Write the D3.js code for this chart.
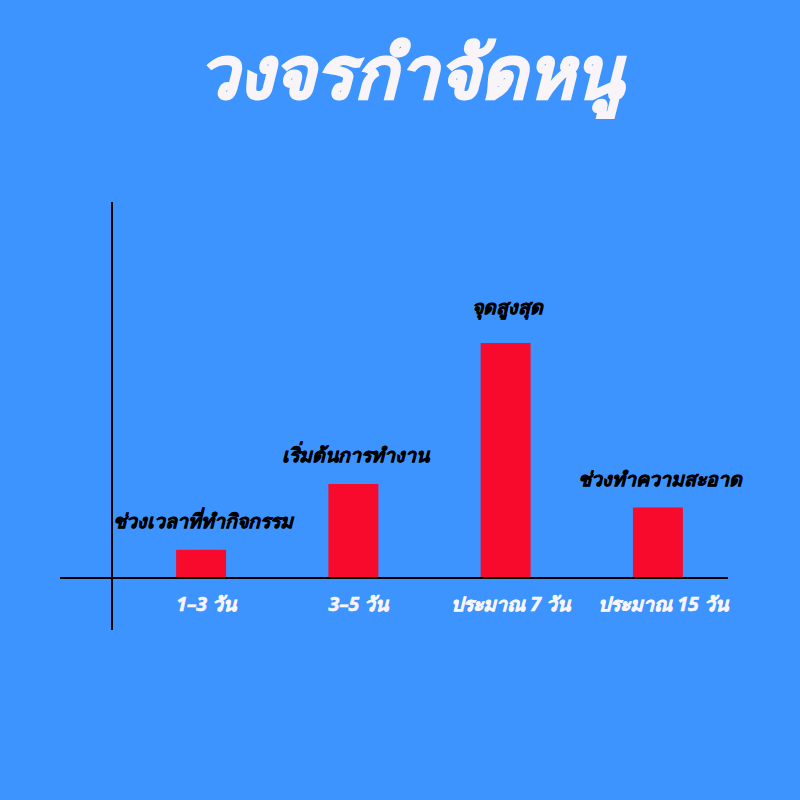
<!DOCTYPE html>
<html>
<head>
<meta charset="utf-8">
<script src="https://cdn.jsdelivr.net/npm/d3@7"></script>
<style>
  html, body { margin: 0; padding: 0; background: #3D94FF; }
  svg { display: block; }
  text { font-family: "Noto Sans", "DejaVu Sans", sans-serif; font-weight: 700; font-style: italic; }
</style>
</head>
<body>
<div id="chart"></div>
<script>
// ข้อมูล — วงจรกำจัดหนู
const categories = ['1–3 วัน', '3–5 วัน', 'ประมาณ 7 วัน', 'ประมาณ 15 วัน'];
const values = [1.2, 4, 10, 3];
const notes = ['ช่วงเวลาที่ทำกิจกรรม', 'เริ่มต้นการทำงาน', 'จุดสูงสุด', 'ช่วงทำความสะอาด'];
const title = 'วงจรกำจัดหนู';

const W = 800, H = 800;
const baseY = 578, axisX = 112;
const white = '#F8F4F8';

const svg = d3.select('#chart').append('svg')
  .attr('width', W).attr('height', H);

svg.append('rect').attr('width', W).attr('height', H).attr('fill', '#3D94FF');

svg.append('text')
  .attr('x', 410).attr('y', 98)
  .attr('text-anchor', 'middle')
  .attr('font-size', 72)
  .attr('fill', white)
  .attr('stroke', white).attr('stroke-width', 2)
  .text(title);

const x = d3.scaleBand()
  .domain(categories)
  .range([99, 758])
  .paddingInner(0.672)
  .paddingOuter(0.5);

const y = d3.scaleLinear()
  .domain([0, 16])
  .range([baseY, 202]);

const g = svg.append('g');

g.selectAll('rect.bar')
  .data(values)
  .join('rect')
  .attr('class', 'bar')
  .attr('x', (d, i) => x(categories[i]) + 1)
  .attr('width', x.bandwidth())
  .attr('y', d => y(d))
  .attr('height', d => baseY - y(d))
  .attr('fill', '#F70A2B');

// เส้นแกน
svg.append('line')
  .attr('x1', axisX).attr('x2', axisX)
  .attr('y1', 202).attr('y2', 630)
  .attr('stroke', '#000').attr('stroke-width', 2);
svg.append('line')
  .attr('x1', 60).attr('x2', 728)
  .attr('y1', baseY).attr('y2', baseY)
  .attr('stroke', '#000').attr('stroke-width', 2);

// ป้ายหมวดหมู่
g.selectAll('text.cat')
  .data(categories)
  .join('text')
  .attr('class', 'cat')
  .attr('x', d => x(d) + x.bandwidth() / 2 + 6)
  .attr('y', 611)
  .attr('text-anchor', 'middle')
  .attr('font-size', 19.5)
  .attr('fill', white)
  .attr('stroke', white).attr('stroke-width', 0.6)
  .text(d => d);

// คำอธิบายเหนือแท่ง
const peak = d3.max(values);
g.selectAll('text.note')
  .data(values)
  .join('text')
  .attr('class', 'note')
  .attr('x', (d, i) => x(categories[i]) + x.bandwidth() / 2 + 3)
  .attr('y', d => y(d) - (d === peak ? 29 : 22))
  .attr('text-anchor', 'middle')
  .attr('font-size', 19.5)
  .attr('fill', '#000')
  .attr('stroke', '#000').attr('stroke-width', 0.6)
  .text((d, i) => notes[i]);
</script>
</body>
</html>
